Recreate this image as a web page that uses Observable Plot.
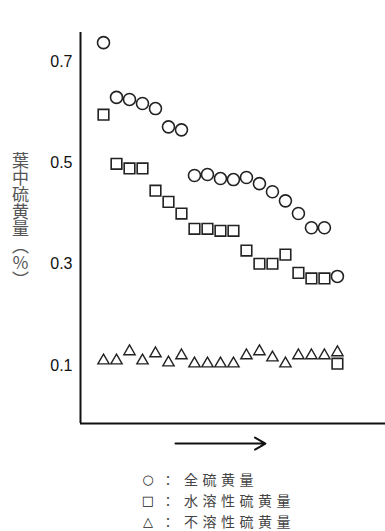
<!DOCTYPE html>
<html>
<head>
<meta charset="utf-8">
<script src="https://cdn.jsdelivr.net/npm/d3@7"></script>
<script src="https://cdn.jsdelivr.net/npm/@observablehq/plot@0.6"></script>
<style>
  body { margin: 0; background: #fff; }
  #wrap { position: relative; width: 385px; height: 531px; overflow: hidden; background: #fff; }
  #ylabel { position: absolute; left: 11px; top: 152px; writing-mode: vertical-rl; font-family: "Noto Sans CJK JP", sans-serif; font-size: 17px; line-height: 18px; color: #555; }
  .lg { position: absolute; left: 0; width: 385px; height: 21px; font-family: "Noto Sans CJK JP", sans-serif; color: #444; }
  .lg span { position: absolute; top: 0; line-height: 21px; }
  .sym { font-family: "DejaVu Sans", sans-serif; font-size: 13px; width: 16px; text-align: center; color: #222; }
  .col { font-size: 13px; width: 14px; text-align: center; }
  .txt { font-size: 14px; letter-spacing: 4.5px; }
</style>
</head>
<body>
<div id="wrap">
  <div id="chart"></div>
  <div id="ylabel">葉中硫黄量（％）</div>
</div>
<script>
// sample order (left to right along the time arrow)
const order = [1,2,3,4,5,6,7,8,9,10,11,12,13,14,15,16,17,18,19];
// 全硫黄量 (total sulfur, %)
const totalS = [0.737,0.629,0.625,0.617,0.607,0.571,0.565,0.475,0.477,0.469,0.467,0.471,0.459,0.443,0.425,0.400,0.372,0.372,0.276];
// 水溶性硫黄量 (water-soluble sulfur, %)
const solubleS = [0.595,0.498,0.489,0.489,0.445,0.423,0.400,0.370,0.370,0.366,0.366,0.327,0.301,0.301,0.319,0.283,0.272,0.272,0.104];
// 不溶性硫黄量 (insoluble sulfur, %)
const insolubleS = [0.110,0.110,0.128,0.110,0.124,0.106,0.120,0.104,0.104,0.104,0.104,0.120,0.128,0.116,0.104,0.120,0.120,0.120,0.126];
const yTicks = [0.1, 0.3, 0.5, 0.7];
const legendItems = [
  {sym: "○", label: "全硫黄量"},
  {sym: "□", label: "水溶性硫黄量"},
  {sym: "△", label: "不溶性硫黄量"}
];
// time-direction arrow span (in sample order units)
const arrowSpan = [6.54, 13.46];

const xDomain = [-0.77, 22.7];
const yDomain = [-0.014, 0.757];

const tot = order.map((o, i) => ({o, v: totalS[i]}));
const sol = order.map((o, i) => ({o, v: solubleS[i]}));
const ins = order.map((o, i) => ({o, v: insolubleS[i]}));

const chart = Plot.plot({
  width: 385,
  height: 460,
  marginLeft: 80,
  marginRight: 0,
  marginTop: 32,
  marginBottom: 37,
  style: {fontFamily: "'Liberation Sans', Arial, sans-serif", fontSize: "16px", color: "#111", background: "#fff", overflow: "visible"},
  x: {domain: xDomain, axis: null},
  y: {domain: yDomain, ticks: yTicks, tickSize: 0, tickPadding: 8, tickFormat: d => d.toFixed(1), label: null},
  marks: [
    Plot.ruleX([xDomain[0]], {stroke: "#111", strokeWidth: 2}),
    Plot.ruleY([yDomain[0]], {stroke: "#111", strokeWidth: 2}),
    Plot.dot(tot, {x: "o", y: "v", r: 6, stroke: "#222", strokeWidth: 1.6, fill: "none"}),
    Plot.dot(sol, {x: "o", y: "v", symbol: "square", r: 6, stroke: "#222", strokeWidth: 1.6, fill: "none"}),
    Plot.dot(ins, {x: "o", y: "v", symbol: "triangle", r: 4.2, stroke: "#222", strokeWidth: 1.4, fill: "none"}),
    Plot.arrow([{x1: arrowSpan[0], x2: arrowSpan[1], y: yDomain[0] - 0.0395}], {x1: "x1", x2: "x2", y1: "y", y2: "y", stroke: "#111", strokeWidth: 2, headLength: 9, clip: false})
  ]
});
document.getElementById("chart").appendChild(chart);

const wrap = document.getElementById("wrap");
legendItems.forEach((d, i) => {
  const row = document.createElement("div");
  row.className = "lg";
  row.style.top = (469 + i * 21) + "px";
  row.innerHTML = `<span class="sym" style="left:140px">${d.sym}</span><span class="col" style="left:161px">：</span><span class="txt" style="left:184px">${d.label}</span>`;
  wrap.appendChild(row);
});
</script>
</body>
</html>
